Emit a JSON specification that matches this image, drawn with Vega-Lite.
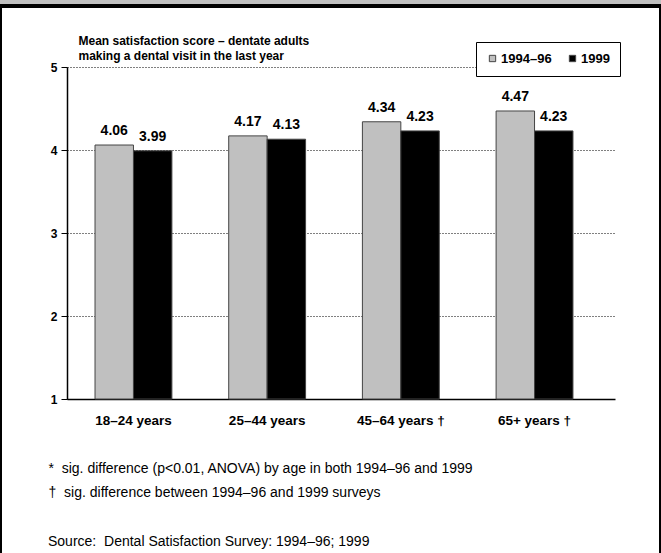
{
  "$schema": "https://vega.github.io/schema/vega-lite/v6.json",
  "width": 661,
  "height": 550,
  "autosize": {"type": "none"},
  "padding": {"top": 6, "left": 0, "right": 0, "bottom": 0},
  "background": "#c0c0c0",
  "view": {"fill": "white", "stroke": "black", "strokeWidth": 4},
  "title": {
    "text": "Source:\u00a0\u00a0Dental Satisfaction Survey: 1994–96; 1999",
    "orient": "bottom",
    "anchor": "start",
    "frame": "group",
    "offset": 0,
    "dx": 48,
    "dy": -10,
    "baseline": "alphabetic",
    "fontSize": 14,
    "fontWeight": "normal",
    "color": "black"
  },
  "data": {
    "values": [
      {"age": "18–24 years", "period": "1994–96", "score": 4.06},
      {"age": "18–24 years", "period": "1999", "score": 3.99},
      {"age": "25–44 years", "period": "1994–96", "score": 4.17},
      {"age": "25–44 years", "period": "1999", "score": 4.13},
      {"age": "45–64 years †", "period": "1994–96", "score": 4.34},
      {"age": "45–64 years †", "period": "1999", "score": 4.23},
      {"age": "65+ years †", "period": "1994–96", "score": 4.47},
      {"age": "65+ years †", "period": "1999", "score": 4.23}
    ]
  },
  "encoding": {
    "x": {
      "field": "age",
      "type": "nominal",
      "sort": null,
      "scale": {"range": [67, 615], "paddingInner": 0.425, "paddingOuter": 0.262, "align": 0.4},
      "axis": {
        "orient": "bottom",
        "offset": -157,
        "labelAngle": 0,
        "ticks": false,
        "tickSize": 0,
        "labelPadding": 14,
        "labelFontSize": 13.5,
        "labelFontWeight": "bold",
        "labelColor": "black",
        "domainColor": "black",
        "domainWidth": 1.5,
        "title": [
          "*\u00a0\u00a0sig. difference (p<0.01, ANOVA) by age in both 1994–96 and 1999",
          "†\u00a0\u00a0sig. difference between 1994–96 and 1999 surveys"
        ],
        "titleX": 48,
        "titleY": 73,
        "titleAnchor": "start",
        "titleAlign": "left",
        "titleBaseline": "alphabetic",
        "titleFontSize": 14,
        "titleFontWeight": "normal",
        "titleColor": "black",
        "titleLineHeight": 24.5
      }
    },
    "xOffset": {"field": "period", "type": "nominal", "sort": ["1994–96", "1999"]},
    "y": {
      "field": "score",
      "type": "quantitative",
      "scale": {"domain": [1, 5], "range": [393, 61], "nice": false, "zero": false},
      "axis": {
        "orient": "left",
        "offset": -67,
        "values": [1, 2, 3, 4, 5],
        "format": "d",
        "grid": true,
        "gridColor": "black",
        "gridDash": [1, 2],
        "gridWidth": 1,
        "gridOpacity": 1,
        "domainColor": "black",
        "domainWidth": 1.5,
        "tickColor": "black",
        "tickSize": 6,
        "labelPadding": 4,
        "labelFontSize": 12,
        "labelFontWeight": "bold",
        "labelColor": "black",
        "title": ["Mean satisfaction score – dentate adults", "making a dental visit in the last year"],
        "titleAngle": 0,
        "titleX": 11,
        "titleY": 38,
        "titleAlign": "left",
        "titleAnchor": "start",
        "titleBaseline": "alphabetic",
        "titleFontSize": 12,
        "titleFontWeight": "bold",
        "titleColor": "black",
        "titleLineHeight": 15
      }
    }
  },
  "layer": [
    {
      "mark": {"type": "bar", "stroke": "#444444", "strokeWidth": 1},
      "encoding": {
        "y2": {"datum": 1},
        "color": {
          "field": "period",
          "type": "nominal",
          "scale": {"domain": ["1994–96", "1999"], "range": ["#c0c0c0", "#000000"]},
          "legend": {
            "title": null,
            "orient": "none",
            "legendX": 476,
            "legendY": 36,
            "direction": "horizontal",
            "gridAlign": "none",
            "symbolType": "square",
            "symbolSize": 40,
            "symbolStrokeColor": "#444444",
            "symbolStrokeWidth": 1,
            "labelFontSize": 13,
            "labelFontWeight": "bold",
            "labelColor": "black",
            "labelOffset": 2,
            "columnPadding": 14,
            "padding": 10,
            "fillColor": "white",
            "strokeColor": "black"
          }
        }
      }
    },
    {
      "mark": {"type": "text", "baseline": "bottom", "dy": -7, "fontSize": 14, "fontWeight": "bold", "color": "black"},
      "encoding": {
        "text": {"field": "score", "type": "quantitative", "format": ".2f"}
      }
    }
  ],
  "config": {
    "font": "Liberation Sans"
  }
}
